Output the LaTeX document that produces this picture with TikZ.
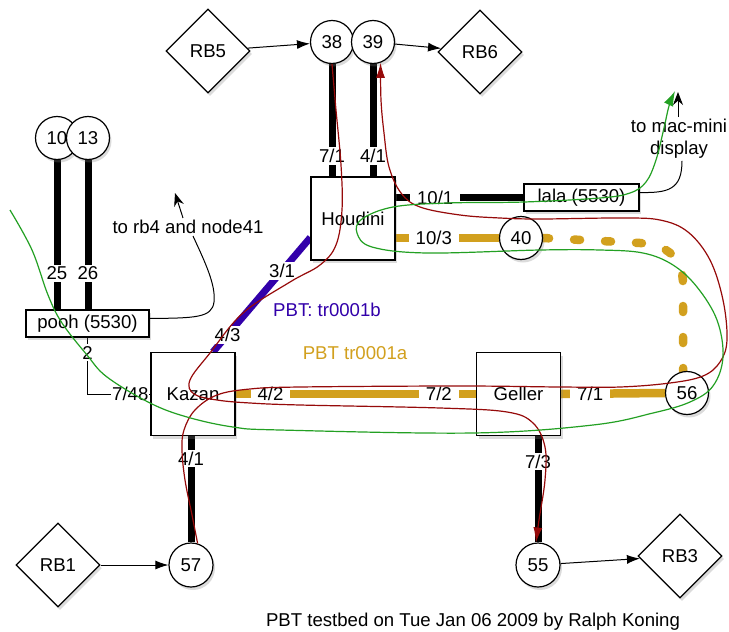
\documentclass[tikz,border=0pt]{standalone}
\usepackage{fontspec}
\setmainfont{Liberation Sans}
\usetikzlibrary{shapes.geometric,arrows.meta,shadows,calc}
\definecolor{gold}{RGB}{210,160,30}
\definecolor{pbtblue}{RGB}{50,0,170}
\definecolor{pathred}{RGB}{150,10,10}
\definecolor{pathgreen}{RGB}{35,160,35}
\pgfdeclarelayer{bg}
\pgfsetlayers{bg,main}
\begin{document}
\begin{tikzpicture}[x=1pt,y=-1pt,
  every node/.style={font=\fontsize{18.6}{22}\selectfont},
  shad/.style={drop shadow={shadow xshift=2pt,shadow yshift=-3pt,opacity=0.28}},
  swbox/.style={draw,fill=white,line width=1.2pt,minimum width=84pt,minimum height=83pt,inner sep=0pt,shad},
  portbox/.style={draw,fill=white,line width=1.2pt,minimum width=123pt,minimum height=27pt,inner sep=0pt,shad},
  circ/.style={circle,draw,fill=white,line width=1.2pt,minimum size=43pt,inner sep=0pt,shad},
  rbnode/.style={diamond,draw,fill=white,line width=1.2pt,minimum width=84pt,minimum height=84pt,inner sep=0pt,shad},
  lab/.style={fill=white,text=black,inner xsep=7pt,inner ysep=2pt},
  blk/.style={line width=7pt,black},
  gld/.style={line width=8.5pt,gold},
  blu/.style={line width=7pt,pbtblue},
  conn/.style={line width=1pt,black},
  arr/.style={line width=1pt,black,-{Latex[length=13pt,width=9pt]}},
  redpath/.style={line width=1.2pt,pathred,-{Latex[length=15pt,width=9pt]}},
  greenpath/.style={line width=1.2pt,pathgreen,-{Latex[length=15pt,width=10pt]}},
]
\begin{pgfonlayer}{bg}
\fill[white] (0,0) rectangle (729,632);
\end{pgfonlayer}
\useasboundingbox (0,0) rectangle (729,632);

% nodes
\node[rbnode] (RB5) at (208,51) {RB5};
\node[rbnode] (RB6) at (480,52) {RB6};
\node[circ] (n38) at (332,42) {38};
\node[circ] (n39) at (373,42) {39};
\node[circ] (n10) at (57,138) {10};
\node[circ] (n13) at (88,138) {13};
\node[swbox] (houdini) at (353,218.5) {Houdini};
\node[portbox,minimum width=115pt] (lala) at (581.5,197.5) {lala (5530)};
\node[circ] (n40) at (521,238) {40};
\node[portbox] (pooh) at (87.5,323.5) {pooh (5530)};
\node[swbox] (kazan) at (193,394) {Kazan};
\node[swbox] (geller) at (518.5,394) {Geller};
\node[circ] (n56) at (687,393) {56};
\node[circ,minimum size=44pt] (n57) at (191,565) {57};
\node[circ,minimum size=44pt] (n55) at (538,565) {55};
\node[rbnode] (RB1) at (58,565) {RB1};
\node[rbnode] (RB3) at (680,556) {RB3};

\node[text=pbtblue] (lblb) at (327,310) {PBT: tr0001b};
\node[text=gold] (lbla) at (355,353) {PBT tr0001a};
\node (title) at (473,622) {PBT testbed on Tue Jan 06 2009 by Ralph Koning};
\node[inner sep=2pt] (rbtext) at (188,227) {to rb4 and node41};
\node[align=center,inner sep=2pt] (mactext) at (679,139) {to mac-mini\\display};
\coordinate (rbtip) at (175,193);
\coordinate (mactip) at (678,92);
\coordinate (greenstart) at (10,210);
\coordinate (greentip) at (675,91);

% thick links
\begin{pgfonlayer}{bg}
\draw[blk] (n38.south) -- node[lab,pos=0.82]{7/1} (n38.south |- houdini.north);
\draw[blk] (n39.south) -- node[lab,pos=0.82]{4/1} (n39.south |- houdini.north);
\draw[blk] (houdini.east |- lala.west) -- node[lab,pos=0.31]{10/1} (lala.west);
\draw[gld] (houdini.east |- n40.west) -- node[lab,pos=0.37]{10/3} (n40.west);
\draw[gld,line cap=round,dash pattern=on 6pt off 25pt] (n40.east) -- (640,243) .. controls (668,245) and (683,258) .. (683,285) -- (n56.100);
\draw[gld] (geller.east) -- node[lab,pos=0.28]{7/1} (n56.west);
\draw[gld] (kazan.east) -- node[lab,pos=0.145]{4/2} node[lab,pos=0.846]{7/2} (geller.west);
\draw[blk] (n57.north |- kazan.south) -- node[lab,pos=0.21]{4/1} (n57.north);
\draw[blk] (n55.north |- geller.south) -- node[lab,pos=0.24]{7/3} (n55.north);
\draw[blk] (n10.south) -- node[lab,pos=0.76]{25} (n10.south |- pooh.north);
\draw[blk] (n13.south) -- node[lab,pos=0.76]{26} (n13.south |- pooh.north);
\draw[blu] ([yshift=-19pt]houdini.west) -- node[lab,pos=0.29]{3/1} node[lab,pos=0.85]{4/3} ([xshift=20pt]kazan.north);
\draw[conn] (pooh.south) -- node[lab,inner xsep=2pt,pos=0.27]{2} (pooh.south |- kazan.west) -- node[lab,inner xsep=1pt,pos=0.68]{7/48} (kazan.west);
\end{pgfonlayer}

% arrows
\draw[arr] (RB5) -- (n38);
\draw[arr] (n39) -- (RB6);
\draw[arr] (RB1) -- (n57);
\draw[arr] (n55) -- (RB3);

% annotation connectors
\draw[conn] ([xshift=5pt]rbtext.south) .. controls (205,262) and (216,285) .. (214,302) .. controls (212,318) and (195,318) .. ([yshift=5pt]pooh.east);
\draw[conn,-{Stealth[length=13pt,width=10pt]}] ([xshift=-5pt]rbtext.north) -- (rbtip);
\draw[conn] ([yshift=5pt]lala.east) .. controls (668,193) and (682,190) .. ([xshift=3pt]mactext.south);
\draw[conn,-{Stealth[length=13pt,width=10pt]}] ([xshift=-1pt]mactext.north) -- (mactip);

% PBT paths
\draw[redpath] plot[smooth,tension=0.6] coordinates {(n38.south) (336,110) (341,165) (342,210) (336,245) (320,265) (290,282) (243,313) (210,353) (190,380) (194,394) (217,400) (250,403) (300,405) (440,408) (507,412) (533,423) (545,447) (545,480) (539,520) (n55.95)};
\draw[redpath] plot[smooth,tension=0.6] coordinates {(n57.73) (192,515) (185,480) (182,450) (184,430) (195,410) (217,395) (250,389) (300,387) (460,386) (560,387) (620,387) (670,383) (703,376) (720,362) (727,340) (723,300) (710,260) (688,232) (660,220) (620,218) (540,219) (500,218) (460,215) (420,207) (401,193) (389,167) (384,133) (381,100) (n39.-70)};
\draw[greenpath] plot[smooth,tension=0.6] coordinates {(greenstart) (32,250) (48,295) (62,323) (87,355) (107,377) (150,403) (187,417) (233,427) (280,430) (473,433) (593,425) (653,413) (690,402) (713,386) (723,357) (717,320) (697,287) (673,265) (643,253) (600,250) (540,250) (427,253) (372,247) (357,233) (362,219) (393,207) (447,203) (524,202) (600,198) (630,193) (646,182) (656,160) (664,128) (669,106) (greentip)};
\end{tikzpicture}
\end{document}
